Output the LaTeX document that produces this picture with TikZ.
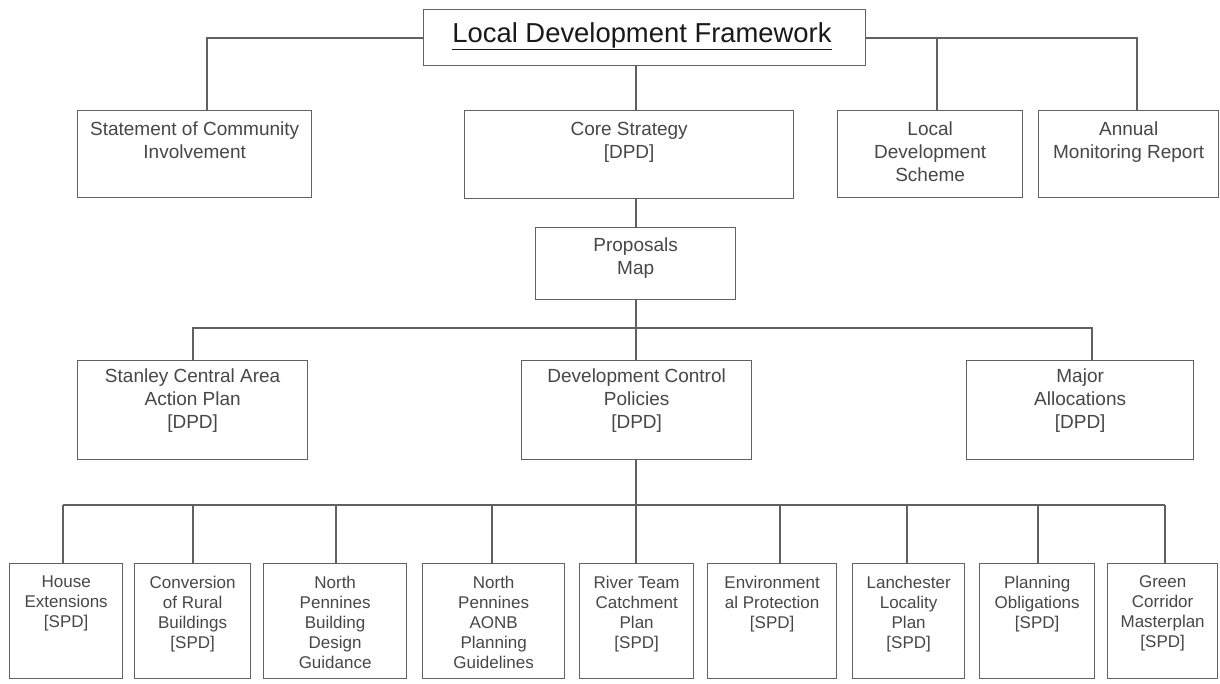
\documentclass[tikz,border=0pt]{standalone}
\usepackage{fontspec}
\setmainfont{Liberation Sans}
\tikzset{
  x=1pt, y=-1pt,
  bx/.style={draw=black!62, line width=1.3pt, inner sep=0pt, anchor=north west, fill=white},
  tx/.style={anchor=north, inner sep=0pt, align=center, text=black!72, font=\fontsize{19}{23}\selectfont},
  txs/.style={tx, font=\fontsize{17}{20}\selectfont},
  ln/.style={draw=black!62, line width=1.3pt},
}
\newcommand{\mybox}[8]{%
  \node[bx, minimum width=#4pt, minimum height=#5pt] (#1) at (#2,#3) {};
  \node[#7] (#1t) at ([yshift=-#6pt]#1.north) {#8};
}
\begin{document}
\begin{tikzpicture}
\useasboundingbox (0,0) rectangle (1220,683);
% top
\node[bx, minimum width=442pt, minimum height=56pt] (ldf) at (423,9) {};
\node[anchor=base, inner sep=0pt, font=\fontsize{27.4}{30}\selectfont, text=black!90] (ldft) at (642,42) {\underline{Local Development Framework}};
% row 1
\mybox{sci}{77}{110}{234}{87}{12}{tx}{Statement of Community\\Involvement}
\mybox{core}{464}{110}{329}{88}{12}{tx}{Core Strategy\\{[DPD]}}
\mybox{lds}{837}{110}{185}{87}{12}{tx}{Local\\Development\\Scheme}
\mybox{amr}{1038}{110}{180}{87}{12}{tx}{Annual\\Monitoring Report}
% row 2
\mybox{pm}{535}{227}{200}{72}{11}{tx}{Proposals\\Map}
% row 3
\mybox{st}{77}{360}{230}{99}{9}{tx}{Stanley Central Area\\Action Plan\\{[DPD]}}
\mybox{dcp}{521}{360}{230}{99}{9}{tx}{Development Control\\Policies\\{[DPD]}}
\mybox{ma}{966}{360}{227}{99}{9}{tx}{Major\\Allocations\\{[DPD]}}
% row 4
\mybox{house}{9}{563}{113}{115}{12.5}{txs}{House\\Extensions\\{[SPD]}}
\mybox{conv}{134}{563}{116}{115}{12.5}{txs}{Conversion\\of Rural\\Buildings\\{[SPD]}}
\mybox{npb}{263}{563}{143}{115}{12.5}{txs}{North\\Pennines\\Building\\Design\\Guidance}
\mybox{npa}{422}{563}{142}{115}{12.5}{txs}{North\\Pennines\\AONB\\Planning\\Guidelines}
\mybox{river}{579}{563}{114}{115}{12.5}{txs}{River Team\\Catchment\\Plan\\{[SPD]}}
\mybox{env}{707}{563}{129}{115}{12.5}{txs}{Environment\\al Protection\\{[SPD]}}
\mybox{lan}{852}{563}{112}{115}{12.5}{txs}{Lanchester\\Locality\\Plan\\{[SPD]}}
\mybox{plan}{979}{563}{115}{115}{12.5}{txs}{Planning\\Obligations\\{[SPD]}}
\mybox{green}{1107}{563}{110}{115}{12.5}{txs}{Green\\Corridor\\Masterplan\\{[SPD]}}
% connectors
\coordinate (t1) at (207,38);
\coordinate (t2) at (937,38);
\coordinate (t3) at (1137,38);
\coordinate (c0) at (636,0);
\draw[ln] (ldf.west |- t1) -- (t1) -- (t1 |- sci.north);
\draw[ln] (ldf.east |- t2) -- (t3) -- (t3 |- amr.north);
\draw[ln] (t2) -- (t2 |- lds.north);
\draw[ln] (c0 |- ldf.south) -- (c0 |- core.north);
\draw[ln] (c0 |- core.south) -- (c0 |- pm.north);
\draw[ln] (c0 |- pm.south) -- (c0 |- dcp.north);
\coordinate (m1) at (193,328);
\coordinate (m2) at (1092,328);
\draw[ln] (m1 |- st.north) -- (m1) -- (m2) -- (m2 |- ma.north);
\coordinate (b0) at (636,505);
\coordinate (b1) at (63,505);
\coordinate (b2) at (1165,505);
\draw[ln] (c0 |- dcp.south) -- (b0);
\draw[ln] (b1) -- (b2);
\foreach \xx/\nn in {63/house,193/conv,336/npb,492/npa,636/river,780/env,907/lan,1038/plan,1165/green}
  \draw[ln] (\xx,505) -- (\xx,505 |- \nn.north);
\end{tikzpicture}
\end{document}
